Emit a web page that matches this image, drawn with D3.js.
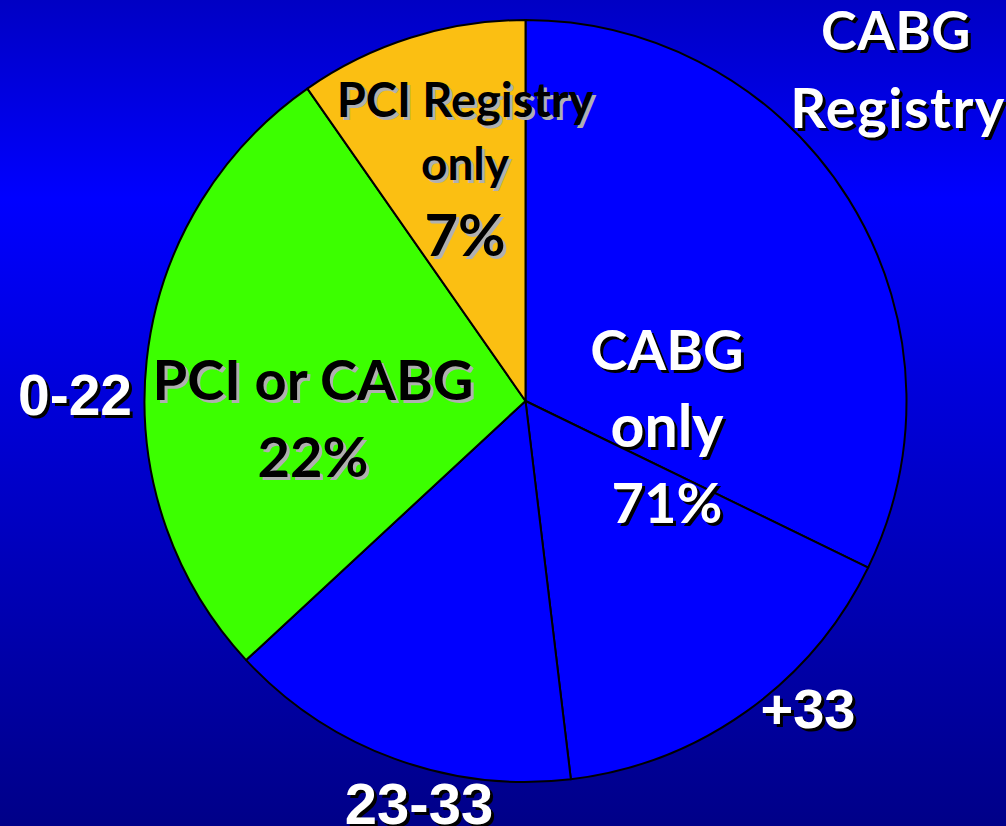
<!DOCTYPE html>
<html>
<head>
<meta charset="utf-8">
<script src="https://cdn.jsdelivr.net/npm/d3@7"></script>
<style>
  html, body { margin: 0; padding: 0; background: #0000c0; }
  svg { display: block; }
</style>
</head>
<body>
<div id="chart-container"></div>
<script>
// slices clockwise from 12 o'clock (share of the full circle, %)
const sliceNames = ["CABG only a", "+33", "23-33", "PCI or CABG", "PCI Registry only"];
const sliceValues = [32.2, 15.9, 15.0, 27.2, 9.7];
const sliceColors = ["#0000ff", "#0000ff", "#0000ff", "#3cff00", "#fbbf12"];

// inner labels
const innerLines = [
  { lines: ["CABG", "only", "71%"], sizes: [56, 59, 56], x: 667, ys: [370, 447, 523], fill: "#fff", shadow: "#000" },
  { lines: ["PCI or CABG", "22%"], sizes: [56, 56], x: 313, ys: [400, 477], fill: "#000", shadow: "#b0b0b0" },
  { lines: ["PCI Registry", "only", "7%"], sizes: [47, 46, 58], x: 465, ys: [117, 180, 256], fill: "#000", shadow: "#b0b0b0" }
];

// outer score labels
const outerLabels = [
  { text: "0-22", x: 75, y: 415, size: 57 },
  { text: "+33", x: 808, y: 728, size: 56 },
  { text: "23-33", x: 419, y: 824, size: 58 }
];

const titleLines = ["CABG", "Registry"];

function pieChart() {
  const width = 1006;
  const height = 826;
  const cx = 525.5;
  const cy = 401;
  const radius = 381;

  d3.select("#chart-container").select("svg").remove();

  const svg = d3
    .select("#chart-container")
    .append("svg")
    .attr("width", width)
    .attr("height", height);

  const grad = svg
    .append("defs")
    .append("linearGradient")
    .attr("id", "bg")
    .attr("x1", 0).attr("y1", 0)
    .attr("x2", 0).attr("y2", 1);
  grad.append("stop").attr("offset", "0").attr("stop-color", "#0000c4");
  grad.append("stop").attr("offset", "0.24").attr("stop-color", "#0000ff");
  grad.append("stop").attr("offset", "1").attr("stop-color", "#000088");

  svg
    .append("rect")
    .attr("width", width)
    .attr("height", height)
    .attr("fill", "url(#bg)");

  const pie = d3.pie().sort(null).value((d) => d);
  const arc = d3.arc().innerRadius(0).outerRadius(radius);

  const g = svg.append("g").attr("transform", `translate(${cx},${cy})`);

  g.selectAll("path")
    .data(pie(sliceValues))
    .join("path")
    .attr("d", arc)
    .attr("fill", (d, i) => sliceColors[i])
    .attr("stroke", "#000")
    .attr("stroke-width", 2)
    .attr("stroke-linejoin", "round");

  // text with a drop shadow, drawn twice
  function shadowText(x, y, text, size, fill, shadow, family, spacing) {
    [[3, 3, shadow], [0, 0, fill]].forEach(([dx, dy, c]) => {
      svg
        .append("text")
        .attr("x", x + dx)
        .attr("y", y + dy)
        .attr("text-anchor", "middle")
        .attr("font-family", family)
        .attr("font-weight", "bold")
        .attr("font-size", size)
        .attr("letter-spacing", spacing || 0)
        .attr("fill", c)
        .text(text);
    });
  }

  innerLines.forEach((block) => {
    block.lines.forEach((t, i) => {
      shadowText(block.x, block.ys[i], t, block.sizes[i], block.fill, block.shadow, "Lato, sans-serif");
    });
  });

  outerLabels.forEach((l) => {
    shadowText(l.x, l.y, l.text, l.size, "#fff", "#000", "'Liberation Sans', Arial, sans-serif");
  });

  shadowText(896, 50, titleLines[0], 54, "#fff", "#000", "Lato, sans-serif", 0.5);
  shadowText(898, 128, titleLines[1], 56, "#fff", "#000", "Lato, sans-serif", 1.5);
}

pieChart();
</script>
</body>
</html>
